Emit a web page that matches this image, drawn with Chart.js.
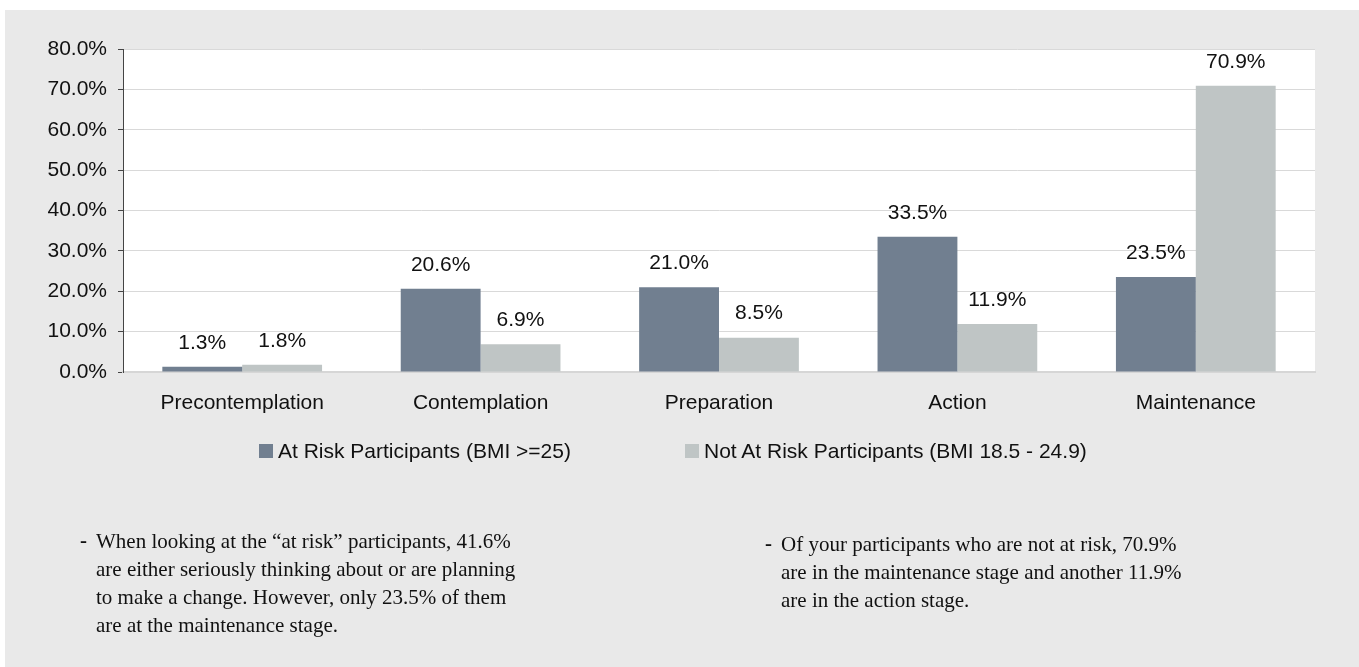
<!DOCTYPE html>
<html>
<head>
<meta charset="utf-8">
<script src="https://cdn.jsdelivr.net/npm/chart.js@4"></script>
<style>
  body { margin: 0; background: #fff; font-family: "Liberation Sans", Arial, sans-serif; }
  #wrap { position: relative; width: 1359px; height: 667px; overflow: hidden; }
  #panel { position: absolute; left: 5px; top: 10px; width: 1354px; height: 657px; background: #e9e9e9; }
  #chart { position: absolute; left: 0; top: 0; }
  .leg { position: absolute; top: 439px; font-size: 21px; line-height: 24px; color: #111; white-space: nowrap; }
  .leg i { position: absolute; top: 5px; width: 14px; height: 14px; }
  .note { position: absolute; font-family: "Liberation Serif", "Times New Roman", serif; font-size: 21px; line-height: 28px; color: #111; white-space: nowrap; }
  .note b { position: absolute; left: -16px; top: -1px; font-weight: bold; }
</style>
</head>
<body>
<div id="wrap">
  <div id="panel"></div>
  <canvas id="chart" width="1359" height="667"></canvas>
  <div class="leg" style="left:278px"><i style="left:-19px;background:#717f90"></i>At Risk Participants (BMI &gt;=25)</div>
  <div class="leg" style="left:704px"><i style="left:-19px;background:#bfc5c5"></i>Not At Risk Participants (BMI 18.5 - 24.9)</div>
  <div class="note" style="left:96px;top:527px"><b>-</b>When looking at the “at risk” participants, 41.6%<br>are either seriously thinking about or are planning<br>to make a change. However, only 23.5% of them<br>are at the maintenance stage.</div>
  <div class="note" style="left:781px;top:530px"><b>-</b>Of your participants who are not at risk, 70.9%<br>are in the maintenance stage and another 11.9%<br>are in the action stage.</div>
</div>
<script>
const stages = ['Precontemplation', 'Contemplation', 'Preparation', 'Action', 'Maintenance'];
const atRisk = [1.3, 20.6, 21.0, 33.5, 23.5];
const notAtRisk = [1.8, 6.9, 8.5, 11.9, 70.9];
const seriesNames = ['At Risk Participants (BMI >=25)', 'Not At Risk Participants (BMI 18.5 - 24.9)'];

const font = { family: '"Liberation Sans", Arial, sans-serif', size: 21 };

// white plot area
const plotBg = {
    id: 'plotBg',
    beforeDraw(chart) {
        const a = chart.chartArea;
        chart.ctx.save();
        chart.ctx.fillStyle = '#fff';
        chart.ctx.fillRect(a.left, a.top, a.right - a.left, a.bottom - a.top);
        chart.ctx.restore();
    }
};

// value labels above bars
const barLabels = {
    id: 'barLabels',
    afterDatasetsDraw(chart) {
        const ctx = chart.ctx;
        ctx.save();
        ctx.font = font.size + 'px ' + font.family;
        ctx.fillStyle = '#111';
        ctx.textAlign = 'center';
        ctx.textBaseline = 'middle';
        chart.data.datasets.forEach((ds, i) => {
            chart.getDatasetMeta(i).data.forEach((bar, j) => {
                ctx.fillText(ds.data[j].toFixed(1) + '%', bar.x, bar.y - 24);
            });
        });
        ctx.restore();
    }
};

new Chart(document.getElementById('chart'), {
    type: 'bar',
    data: {
        labels: stages,
        datasets: [
            { label: seriesNames[0], data: atRisk, backgroundColor: '#717f90' },
            { label: seriesNames[1], data: notAtRisk, backgroundColor: '#bfc5c5' }
        ]
    },
    options: {
        responsive: false,
        animation: false,
        devicePixelRatio: 1,
        layout: { padding: { top: 49, right: 44, left: 0, bottom: 0 } },
        datasets: { bar: { categoryPercentage: 0.67, barPercentage: 1.0 } },
        plugins: { legend: { display: false }, tooltip: { enabled: false } },
        scales: {
            x: {
                grid: { display: false, drawTicks: false },
                border: { color: '#d6d6d6', width: 2 },
                ticks: { color: '#111', font: font, padding: 19 },
                afterFit: s => { s.height = 295; }
            },
            y: {
                min: 0,
                max: 80,
                ticks: { stepSize: 10, color: '#111', font: font, padding: 11, callback: v => v.toFixed(1) + '%' },
                grid: { color: '#d9d9d9', tickColor: '#444', tickLength: 5 },
                border: { color: '#444', width: 1 },
                afterFit: s => { s.width = 123; }
            }
        }
    },
    plugins: [plotBg, barLabels]
});
</script>
</body>
</html>
